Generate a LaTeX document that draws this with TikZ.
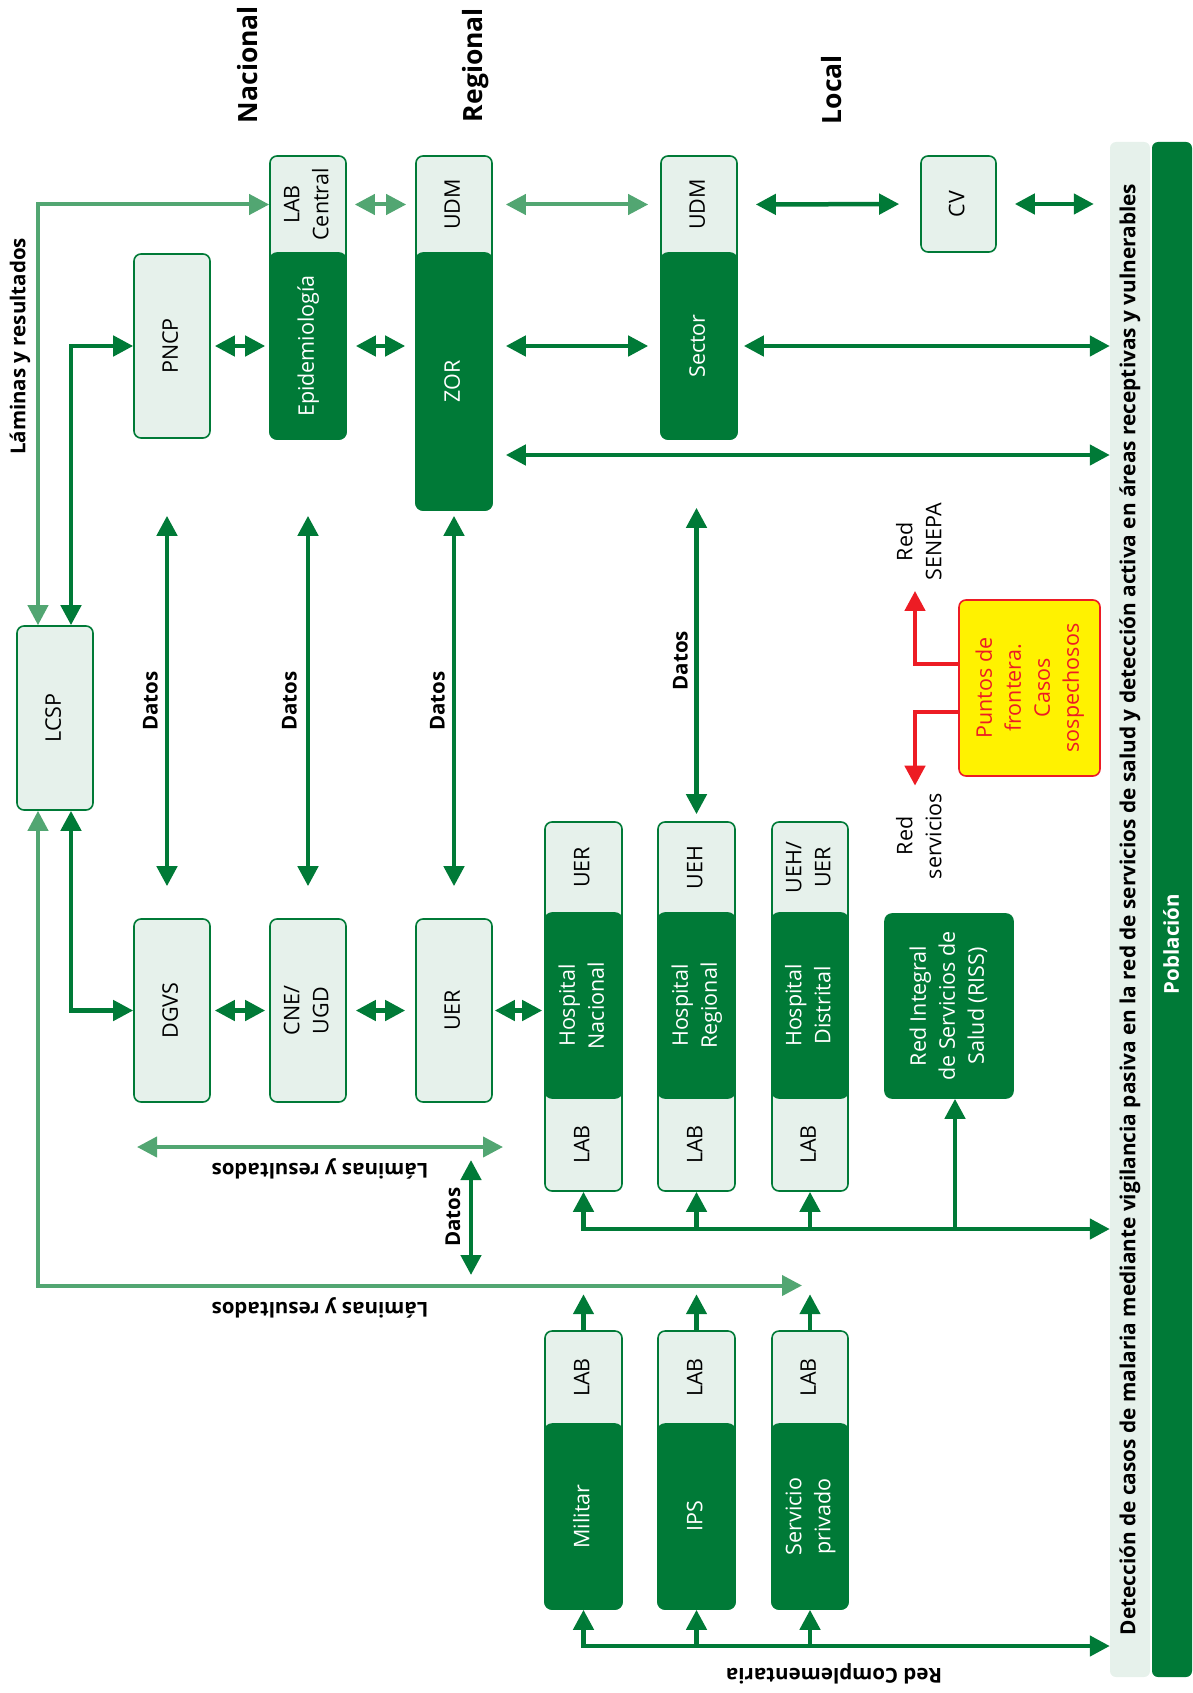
\documentclass[tikz,border=0pt]{standalone}
\usepackage{fontspec}
\setmainfont{Open Sans}
\usepackage{graphicx}
\usepackage{tikz}
\usetikzlibrary{arrows.meta,calc}

\definecolor{dgreen}{RGB}{0,122,55}
\definecolor{lgreen}{RGB}{230,241,235}
\definecolor{mgreen}{RGB}{82,166,114}
\definecolor{fred}{RGB}{237,28,36}
\definecolor{fyellow}{RGB}{255,242,0}

\newcommand{\vtxt}[1]{\rotatebox{90}{\begin{tabular}{@{}c@{}}#1\end{tabular}}}

\begin{document}
\begin{tikzpicture}[x=1pt, y=-1pt, >={Triangle[length=20pt, width=20pt]},
    box/.style={rectangle, draw=dgreen, line width=1.6pt, fill=lgreen, rounded corners=7pt, inner sep=0pt, font=\fontsize{21.5}{29}\selectfont},
    darkbox/.style={box, fill=dgreen, text=white},
    part/.style={inner sep=0pt, font=\fontsize{21.5}{29}\selectfont},
    lbl/.style={inner sep=0pt, font=\bfseries\fontsize{20.5}{26}\selectfont},
    level/.style={inner sep=0pt, font=\bfseries\fontsize{26.5}{32}\selectfont},
    bar/.style={rectangle, rounded corners=6pt, inner sep=0pt, minimum width=40pt, minimum height=1535pt},
    arrow/.style={<->, draw=dgreen, line width=4.5pt},
    sarrow/.style={->, draw=dgreen, line width=4.5pt},
    larrow/.style={<->, draw=mgreen, line width=4pt},
    rarrow/.style={->, draw=fred, line width=4.5pt}]

    \useasboundingbox (0,0) rectangle (1192,1693);

    % Levels
    \node[level] (nac) at (247.5,64.5) {\rotatebox{90}{Nacional}};
    \node[level] (reg) at (475.5,65) {\rotatebox{90}{Regional}};
    \node[level] (loc) at (832,89.5) {\rotatebox{90}{Local}};

    % LCSP
    \node[box, minimum width=76pt, minimum height=184pt] (lcsp) at (55,718) {\vtxt{LCSP}};

    % National
    \node[box, minimum width=76pt, minimum height=184pt] (pncp) at (172,346) {\vtxt{PNCP}};
    \node[box, minimum width=76pt, minimum height=283pt] (colb) at (308,297.5) {};
    \node[part] (labc) at (308,204.5) {\vtxt{LAB\\Central}};
    \node[darkbox, minimum width=76pt, minimum height=186pt] (epi) at (308,346) {\vtxt{Epidemiología}};

    % Regional
    \node[box, minimum width=76pt, minimum height=354pt] (colc) at (454,333) {};
    \node[part] (udma) at (454,204.5) {\vtxt{UDM}};
    \node[darkbox, minimum width=76pt, minimum height=257pt] (zor) at (454,381.5) {\vtxt{ZOR}};

    % Local
    \node[box, minimum width=76pt, minimum height=283pt] (cole) at (699,297.5) {};
    \node[part] (udmb) at (699,204.5) {\vtxt{UDM}};
    \node[darkbox, minimum width=76pt, minimum height=186pt] (sector) at (699,346) {\vtxt{Sector}};
    \node[box, minimum width=75pt, minimum height=96pt] (cv) at (958.5,204) {\vtxt{CV}};

    % Lower row
    \node[box, minimum width=76pt, minimum height=183pt] (dgvs) at (172,1010.5) {\vtxt{DGVS}};
    \node[box, minimum width=76pt, minimum height=183pt] (cne) at (308,1010.5) {\vtxt{CNE/\\UGD}};
    \node[box, minimum width=76pt, minimum height=183pt] (uer) at (454,1010.5) {\vtxt{UER}};

    % Hospital Nacional
    \node[box, minimum width=77pt, minimum height=369pt] (hnac) at (583.5,1006.5) {};
    \node[part] (hnacu) at (583.5,867.5) {\vtxt{UER}};
    \node[darkbox, minimum width=77pt, minimum height=185pt] (hnacd) at (583.5,1005.5) {\vtxt{Hospital\\Nacional}};
    \node[part] (hnacl) at (583.5,1144.5) {\vtxt{LAB}};

    % Hospital Regional
    \node[box, minimum width=77pt, minimum height=369pt] (hreg) at (696.5,1006.5) {};
    \node[part] (hregu) at (696.5,867.5) {\vtxt{UEH}};
    \node[darkbox, minimum width=77pt, minimum height=185pt] (hregd) at (696.5,1005.5) {\vtxt{Hospital\\Regional}};
    \node[part] (hregl) at (696.5,1144.5) {\vtxt{LAB}};

    % Hospital Distrital
    \node[box, minimum width=76pt, minimum height=369pt] (hdis) at (810,1006.5) {};
    \node[part] (hdisu) at (810,867.5) {\vtxt{UEH/\\UER}};
    \node[darkbox, minimum width=76pt, minimum height=185pt] (hdisd) at (810,1005.5) {\vtxt{Hospital\\Distrital}};
    \node[part] (hdisl) at (810,1144.5) {\vtxt{LAB}};

    % RISS
    \node[darkbox, minimum width=128pt, minimum height=184pt] (riss) at (949,1006) {\vtxt{Red Integral\\de Servicios de\\Salud (RISS)}};

    % Red complementaria
    \node[box, minimum width=77pt, minimum height=278pt] (mil) at (583.5,1470) {};
    \node[part] (mill) at (583.5,1377.5) {\vtxt{LAB}};
    \node[darkbox, minimum width=77pt, minimum height=185pt] (mild) at (583.5,1516.5) {\vtxt{Militar}};
    \node[box, minimum width=77pt, minimum height=278pt] (ips) at (696.5,1470) {};
    \node[part] (ipsl) at (696.5,1377.5) {\vtxt{LAB}};
    \node[darkbox, minimum width=77pt, minimum height=185pt] (ipsd) at (696.5,1516.5) {\vtxt{IPS}};
    \node[box, minimum width=76pt, minimum height=278pt] (spriv) at (810,1470) {};
    \node[part] (sprivl) at (810,1377.5) {\vtxt{LAB}};
    \node[darkbox, minimum width=76pt, minimum height=185pt] (sprivd) at (810,1516.5) {\vtxt{Servicio\\privado}};

    % Border points
    \node[box, draw=fred, fill=fyellow, text=fred, minimum width=141pt, minimum height=176pt] (front) at (1029.5,688) {\vtxt{Puntos de\\frontera.\\Casos\\sospechosos}};
    \node[part] (senepa) at (921,542) {\vtxt{Red\\SENEPA}};
    \node[part] (redserv) at (921,836) {\vtxt{Red\\servicios}};

    % Bars
    \node[bar, fill=lgreen, font=\bfseries\fontsize{20.8}{26}\selectfont] (lbar) at (1130,909.5) {\rotatebox{90}{Detección de casos de malaria mediante vigilancia pasiva en la red de servicios de salud y detección activa en áreas receptivas y vulnerables}};
    \node[bar, fill=dgreen] (dbar) at (1172,909.5) {};
    \node[lbl, text=white] (pob) at (1171,944) {\rotatebox{90}{Población}};

    % Labels
    \node[lbl] (lama) at (20,346.5) {\rotatebox{90}{Láminas y resultados}};
    \node[lbl, rotate=180] (lamb) at (320,1169) {Láminas y resultados};
    \node[lbl, rotate=180] (lamc) at (320,1307.5) {Láminas y resultados};
    \node[lbl, rotate=180] (rcomp) at (834,1673.5) {Red Complementaria};
    \node[lbl] (datosa) at (150.5,701) {\rotatebox{90}{Datos}};
    \node[lbl] (datosb) at (289.5,701) {\rotatebox{90}{Datos}};
    \node[lbl] (datosc) at (437.5,701) {\rotatebox{90}{Datos}};
    \node[lbl] (datose) at (680.5,660.5) {\rotatebox{90}{Datos}};
    \node[lbl] (datosf) at (453,1217) {\rotatebox{90}{Datos}};

    % Free ends
    \coordinate (lamend) at (802,1285.5);
    \coordinate (lr1) at (137,1147);
    \coordinate (lr2) at (503,1147);
    \coordinate (dt1) at (471,1160);
    \coordinate (dt2) at (471,1275);
    \coordinate (zorlow) at ($(zor.east)+(0,73.5)$);
    \coordinate (hbus) at (583.5,1229);
    \coordinate (cbus) at (583.5,1646);

    % Upper links
    \draw[larrow, shorten <=8pt, shorten >=9pt] (colb.east |- labc) -- (colc.west |- labc);
    \draw[larrow, shorten <=13pt, shorten >=12pt] (colc.east |- udma) -- (cole.west |- udma);
    \draw[arrow, shorten <=18pt, shorten >=21pt] (cole.east |- udmb) -- (cv.west);
    \draw[arrow, shorten <=18pt, shorten >=16pt] (cv.east) -- (cv.east -| lbar.west);
    \draw[arrow, shorten <=4pt, shorten >=4pt] (pncp.east) -- (epi.west);
    \draw[arrow, shorten <=9pt, shorten >=10pt] (epi.east) -- (epi.east -| zor.west);
    \draw[arrow, shorten <=13pt, shorten >=12pt] (epi.east -| zor.east) -- (sector.west);
    \draw[arrow, shorten <=6pt] (sector.east) -- (sector.east -| lbar.west);
    \draw[arrow, shorten <=13pt] (zorlow) -- (zorlow -| lbar.west);

    % LCSP links
    \draw[larrow] ([xshift=-17pt]lcsp.north) |- (colb.west |- labc);
    \draw[arrow] ([xshift=16pt]lcsp.north) |- (pncp.west);
    \draw[larrow] ([xshift=-17pt]lcsp.south) |- (lamend);
    \draw[arrow] ([xshift=16pt]lcsp.south) |- (dgvs.west);

    % Datos
    \draw[arrow, shorten <=77pt, shorten >=32pt] ([xshift=-5pt]pncp.south) -- ([xshift=-5pt]dgvs.north);
    \draw[arrow, shorten <=76pt, shorten >=32pt] (colb.south) -- (cne.north);
    \draw[arrow, shorten <=5pt, shorten >=32pt] (zor.south) -- (uer.north);
    \draw[arrow, shorten <=68pt, shorten >=7pt] (hreg.north |- cole.south) -- (hreg.north);

    % Lower links
    \draw[arrow, shorten <=4pt, shorten >=4pt] (dgvs.east) -- (cne.west);
    \draw[arrow, shorten <=9pt, shorten >=10pt] (cne.east) -- (uer.west);
    \draw[arrow, shorten <=2pt, shorten >=2pt] (uer.east) -- (uer.east -| hnac.west);
    \draw[larrow] (lr1) -- (lr2);
    \draw[arrow] (dt1) -- (dt2);

    % Hospitals to population
    \draw[arrow] (hnac.south) |- (hbus -| lbar.west);
    \draw[sarrow] (hbus -| hreg.south) -- (hreg.south);
    \draw[sarrow] (hbus -| hdis.south) -- (hdis.south);
    \draw[sarrow] ([xshift=6pt]riss.south |- hbus) -- ([xshift=6pt]riss.south);

    % Complementary network
    \draw[arrow] (mil.south) |- (cbus -| lbar.west);
    \draw[sarrow] (cbus -| ips.south) -- (ips.south);
    \draw[sarrow] (cbus -| spriv.south) -- (spriv.south);
    \draw[sarrow] (mil.north) -- ++(0,-36);
    \draw[sarrow] (ips.north) -- ++(0,-36);
    \draw[sarrow] (spriv.north) -- ++(0,-36);

    % Border points
    \draw[rarrow, shorten >=10pt] ([yshift=24pt]front.west) -| ([xshift=-6pt]senepa.south);
    \draw[rarrow, shorten >=7pt] ([yshift=-24pt]front.west) -| ([xshift=-6pt]redserv.north);

\end{tikzpicture}
\end{document}
